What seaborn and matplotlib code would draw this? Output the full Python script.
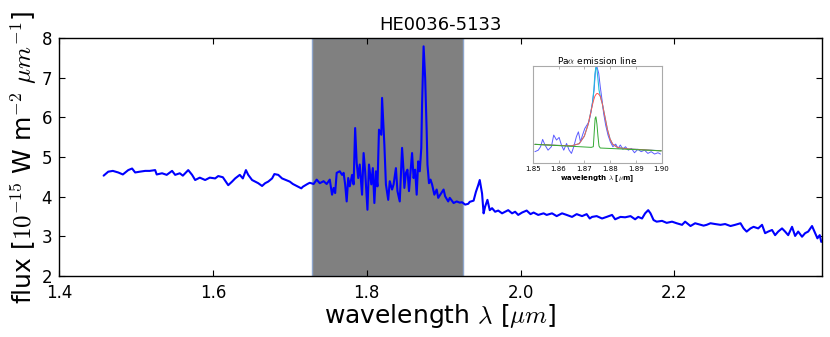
import matplotlib
matplotlib.use("Agg")
import matplotlib.pyplot as plt
import seaborn as sns

# main spectrum
WAVE = [
    1.458, 1.464, 1.470, 1.477, 1.483, 1.490, 1.495, 1.499, 1.505, 1.512,
    1.518, 1.525, 1.527, 1.534, 1.540, 1.547, 1.551, 1.557, 1.561, 1.568,
    1.573, 1.577, 1.583, 1.590, 1.596, 1.603, 1.607, 1.613, 1.620, 1.625,
    1.629, 1.635, 1.639, 1.643, 1.646, 1.651, 1.655, 1.659, 1.664, 1.668,
    1.672, 1.677, 1.680, 1.685, 1.690, 1.695, 1.700, 1.704, 1.711, 1.715,
    1.717, 1.723, 1.726, 1.731, 1.735, 1.739, 1.744, 1.748, 1.752, 1.755,
    1.757, 1.759, 1.761, 1.765, 1.768, 1.770, 1.772, 1.774, 1.776, 1.778,
    1.781, 1.783, 1.785, 1.787, 1.789, 1.791, 1.794, 1.796, 1.798, 1.800,
    1.801, 1.803, 1.806, 1.808, 1.810, 1.812, 1.814, 1.816, 1.819, 1.820,
    1.823, 1.825, 1.828, 1.830, 1.833, 1.835, 1.838, 1.840, 1.843, 1.846,
    1.848, 1.849, 1.851, 1.853, 1.855, 1.859, 1.861, 1.863, 1.865, 1.867,
    1.869, 1.871, 1.872, 1.874, 1.876, 1.878, 1.879, 1.881, 1.883, 1.885,
    1.888, 1.891, 1.893, 1.897, 1.900, 1.902, 1.906, 1.908, 1.913, 1.917,
    1.921, 1.924, 1.928, 1.932, 1.934, 1.939, 1.942, 1.945, 1.947, 1.950,
    1.952, 1.954, 1.957, 1.960, 1.963, 1.967, 1.971, 1.976, 1.980, 1.984,
    1.989, 1.993, 1.997, 2.002, 2.008, 2.013, 2.017, 2.023, 2.030, 2.034,
    2.041, 2.047, 2.054, 2.060, 2.067, 2.073, 2.080, 2.086, 2.090, 2.093,
    2.099, 2.106, 2.112, 2.119, 2.123, 2.130, 2.136, 2.143, 2.149, 2.153,
    2.158, 2.162, 2.166, 2.169, 2.173, 2.177, 2.184, 2.190, 2.197, 2.203,
    2.210, 2.214, 2.221, 2.227, 2.234, 2.238, 2.242, 2.247, 2.253, 2.260,
    2.266, 2.273, 2.279, 2.286, 2.290, 2.294, 2.299, 2.303, 2.309, 2.314,
    2.318, 2.322, 2.327, 2.331, 2.335, 2.340, 2.344, 2.348, 2.353, 2.357,
    2.361, 2.366, 2.370, 2.374, 2.379, 2.383, 2.386, 2.389, 2.391,
]
FLUX = [
    4.53, 4.63, 4.65, 4.61, 4.56, 4.67, 4.71, 4.61, 4.63, 4.65,
    4.65, 4.67, 4.56, 4.59, 4.55, 4.65, 4.55, 4.59, 4.53, 4.67,
    4.55, 4.42, 4.48, 4.42, 4.48, 4.46, 4.52, 4.49, 4.29, 4.38,
    4.46, 4.55, 4.46, 4.67, 4.55, 4.42, 4.38, 4.34, 4.27, 4.34,
    4.38, 4.46, 4.57, 4.55, 4.46, 4.42, 4.38, 4.32, 4.25, 4.21,
    4.25, 4.32, 4.35, 4.32, 4.43, 4.34, 4.39, 4.32, 4.43, 4.05,
    4.22, 4.09, 4.60, 4.64, 4.55, 4.60, 4.31, 3.88, 4.47, 4.26,
    4.55, 4.31, 5.73, 4.85, 4.47, 4.81, 4.05, 5.10, 4.64, 3.97,
    3.67, 4.81, 4.31, 4.72, 3.84, 4.64, 4.26, 5.69, 5.56, 6.49,
    5.31, 4.31, 3.92, 4.39, 4.18, 4.31, 4.72, 4.14, 3.88, 5.23,
    4.64, 4.22, 4.60, 4.68, 4.14, 5.10, 4.47, 4.68, 4.05, 4.89,
    4.64, 5.23, 6.32, 7.79, 7.00, 5.65, 4.81, 4.34, 4.43, 4.31,
    4.05, 4.18, 3.97, 4.09, 4.18, 4.01, 3.88, 3.97, 3.84, 3.88,
    3.85, 3.86, 3.80, 3.82, 3.87, 3.90, 4.12, 4.29, 4.42, 4.08,
    3.58, 3.75, 3.92, 3.66, 3.71, 3.62, 3.65, 3.58, 3.62, 3.66,
    3.58, 3.62, 3.54, 3.60, 3.65, 3.56, 3.60, 3.54, 3.58, 3.54,
    3.58, 3.51, 3.58, 3.54, 3.49, 3.56, 3.51, 3.56, 3.45, 3.49,
    3.51, 3.45, 3.49, 3.54, 3.43, 3.49, 3.48, 3.51, 3.43, 3.49,
    3.45, 3.58, 3.66, 3.58, 3.41, 3.37, 3.39, 3.34, 3.37, 3.33,
    3.29, 3.37, 3.26, 3.33, 3.29, 3.27, 3.29, 3.33, 3.31, 3.29,
    3.31, 3.26, 3.29, 3.33, 3.20, 3.12, 3.20, 3.24, 3.20, 3.29,
    3.08, 3.12, 3.16, 3.03, 3.12, 3.20, 3.12, 3.03, 3.24, 3.01,
    3.12, 2.99, 3.08, 3.12, 3.26, 3.08, 2.95, 3.03, 2.86,
]
SHADE = [1.729, 1.925]

# inset: Pa alpha zoom with fit components
IN_WAVE = [
    1.8508, 1.8521, 1.8530, 1.8538, 1.8547, 1.8559, 1.8572, 1.8581, 1.8592, 1.8602,
    1.8611, 1.8620, 1.8631, 1.8641, 1.8650, 1.8659, 1.8669, 1.8677, 1.8685, 1.8693,
    1.8702, 1.8710, 1.8718, 1.8725, 1.8731, 1.8738, 1.8744, 1.8749, 1.8756, 1.8762,
    1.8769, 1.8775, 1.8783, 1.8792, 1.8801, 1.8811, 1.8822, 1.8831, 1.8840, 1.8850,
    1.8860, 1.8871, 1.8883, 1.8895, 1.8908, 1.8921, 1.8934, 1.8947, 1.8960, 1.8973,
    1.8986, 1.8996,
]
IN_FLUX = [
    4.03, 4.10, 4.26, 4.60, 4.34, 4.10, 4.26, 4.80, 4.57, 4.69,
    4.34, 4.10, 4.41, 4.10, 3.95, 4.26, 4.72, 4.95, 4.49, 4.80,
    5.11, 5.26, 5.42, 5.81, 6.27, 6.89, 7.89, 7.97, 7.66, 7.04,
    6.42, 5.81, 5.26, 4.80, 4.49, 4.26, 4.38, 4.18, 4.34, 4.14,
    4.26, 4.10, 4.18, 3.98, 4.14, 4.03, 4.10, 3.95, 4.03, 3.92,
    3.98, 3.92,
]
FIT_WAVE = [
    1.8508, 1.8600, 1.8650, 1.8680, 1.8700, 1.8715, 1.8725, 1.8732, 1.8737, 1.8741,
    1.8745, 1.8749, 1.8753, 1.8757, 1.8762, 1.8770, 1.8780, 1.8790, 1.8800, 1.8810,
    1.8830, 1.8870, 1.8999,
]
FIT_TOTAL = [
    4.37, 4.32, 4.30, 4.40, 4.75, 5.30, 5.85, 6.30, 6.90, 7.60,
    7.95, 7.85, 7.40, 6.90, 6.60, 6.25, 5.65, 5.05, 4.62, 4.38,
    4.22, 4.16, 4.07,
]
FIT_BROAD = [
    4.37, 4.32, 4.30, 4.40, 4.75, 5.30, 5.85, 6.22, 6.45, 6.60,
    6.68, 6.73, 6.72, 6.68, 6.60, 6.25, 5.65, 5.05, 4.62, 4.38,
    4.22, 4.16, 4.07,
]
NARROW_WAVE = [1.8508, 1.8682, 1.8727, 1.8735, 1.8739, 1.8742, 1.8745, 1.8749,
               1.8753, 1.8757, 1.8762, 1.8999]
NARROW_FLUX = [4.37, 4.26, 4.23, 4.26, 5.03, 5.57, 5.65, 5.31, 4.75, 4.29, 4.20, 4.07]

sns.set_style("ticks")
plt.rcParams["font.family"] = ["DejaVu Sans"]
plt.rcParams["mathtext.fontset"] = "cm"
plt.rcParams["axes.edgecolor"] = "black"
plt.rcParams["axes.linewidth"] = 1.0
plt.rcParams["text.color"] = "black"
plt.rcParams["axes.labelcolor"] = "black"
plt.rcParams["xtick.color"] = "black"
plt.rcParams["ytick.color"] = "black"
plt.rcParams["xtick.direction"] = "in"
plt.rcParams["ytick.direction"] = "in"
plt.rcParams["xtick.top"] = True
plt.rcParams["ytick.right"] = True
plt.rcParams["xtick.major.size"] = 4
plt.rcParams["ytick.major.size"] = 4

fig = plt.figure(figsize=(8.3, 3.37), dpi=100)
fig.patch.set_facecolor("white")
ax = fig.add_axes([0.0711, 0.181, 0.9193, 0.7062])

ax.axvspan(SHADE[0], SHADE[1], facecolor="0.5", edgecolor="#8ea6cc", lw=1, zorder=0)
sns.lineplot(x=WAVE, y=FLUX, color="blue", lw=1.5, estimator=None, ax=ax)

ax.set_xlim(1.4, 2.392)
ax.set_ylim(2, 8)
ax.set_xticks([1.4, 1.6, 1.8, 2.0, 2.2])
ax.set_yticks(range(2, 9))
ax.tick_params(labelsize=12)
ax.tick_params(axis="y", pad=5)
ax.tick_params(axis="x", pad=6)
ax.set_title("HE0036-5133", fontsize=13, pad=6)
ax.set_xlabel(r"wavelength $\lambda$ [$\mu m$]", fontsize=18, labelpad=0)
ax.set_ylabel(r"flux [$10^{-15}$ W m$^{-2}$ $\mu m^{-1}$]", fontsize=18, labelpad=2)

# inset
axin = fig.add_axes([0.642, 0.516, 0.155, 0.288])
sns.lineplot(x=IN_WAVE, y=IN_FLUX, color="#3333ff", lw=0.7, alpha=0.8,
             estimator=None, ax=axin)
sns.lineplot(x=FIT_WAVE, y=FIT_TOTAL, color="#22bbdd", lw=0.8, estimator=None, ax=axin)
sns.lineplot(x=FIT_WAVE, y=FIT_BROAD, color="#ff5555", lw=0.7, estimator=None, ax=axin)
sns.lineplot(x=NARROW_WAVE, y=NARROW_FLUX, color="#33aa33", lw=0.7, estimator=None, ax=axin)
axin.set_xlim(1.85, 1.90)
axin.set_ylim(3.5, 8.0)
axin.set_xticks([1.85, 1.86, 1.87, 1.88, 1.89, 1.90])
axin.set_xticklabels(["1.85", "1.86", "1.87", "1.88", "1.89", "1.90"])
axin.set_yticks([])
axin.tick_params(axis="x", labelsize=5, length=2, width=0.5, pad=2, color="#999999")
for sp in axin.spines.values():
    sp.set_color("#aaaaaa")
    sp.set_linewidth(0.8)
axin.set_title(r"Pa$\alpha$ emission line", fontsize=6.5, pad=1.5)
axin.set_xlabel(r"wavelength $\lambda$ [$\mu$m]", fontsize=5, labelpad=1, fontweight="bold")

fig.savefig("out.png", dpi=100, facecolor="white")
